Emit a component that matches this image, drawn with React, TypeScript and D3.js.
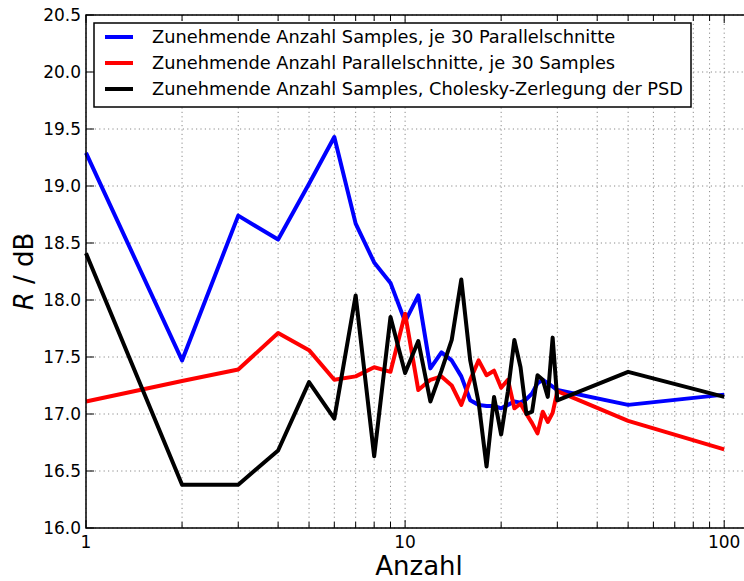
import React, { useEffect, useRef } from "react";
import * as d3 from "d3";

// Anzahl (x) and R / dB for the three runs
const anzahl = [1, 2, 3, 4, 5, 6, 7, 8, 9, 10, 11, 12, 13, 14, 15, 16, 17, 18, 19, 20, 21, 22, 23, 24, 25, 26, 27, 28, 29, 30, 50, 100];
const samplesJe30Schnitte = [19.29, 17.47, 18.74, 18.53, 19.02, 19.43, 18.67, 18.33, 18.15, 17.81, 18.04, 17.40, 17.54, 17.47, 17.33, 17.12, 17.08, 17.07, 17.07, 17.05, 17.08, 17.11, 17.10, 17.13, 17.18, 17.27, 17.30, 17.27, 17.24, 17.21, 17.08, 17.17];
const schnitteJe30Samples = [17.11, 17.29, 17.39, 17.71, 17.56, 17.30, 17.33, 17.41, 17.37, 17.88, 17.21, 17.30, 17.33, 17.25, 17.08, 17.30, 17.47, 17.34, 17.38, 17.23, 17.30, 17.05, 17.09, 17.00, 16.92, 16.83, 17.02, 16.93, 17.01, 17.20, 16.94, 16.69];
const samplesCholesky = [18.41, 16.38, 16.38, 16.68, 17.28, 16.96, 18.04, 16.63, 17.85, 17.36, 17.64, 17.11, 17.38, 17.65, 18.18, 17.47, 17.10, 16.54, 17.15, 16.82, 17.20, 17.65, 17.41, 17.00, 17.02, 17.34, 17.30, 17.15, 17.67, 17.12, 17.37, 17.15];

const seriesNames = [
  "Zunehmende Anzahl Samples, je 30 Parallelschnitte",
  "Zunehmende Anzahl Parallelschnitte, je 30 Samples",
  "Zunehmende Anzahl Samples, Cholesky-Zerlegung der PSD",
];
const seriesColors = ["#0000ff", "#ff0000", "#000000"];
const yTicks = [16.0, 16.5, 17.0, 17.5, 18.0, 18.5, 19.0, 19.5, 20.0, 20.5];
const xMajor = [1, 10, 100];
const xMinor = [2, 3, 4, 5, 6, 7, 8, 9, 20, 30, 40, 50, 60, 70, 80, 90];

const W = 744, H = 581;
const left = 86, top = 15, bottom = 528, right = 754;
const font = '"DejaVu Sans", sans-serif';

export default function App() {
  const ref = useRef<SVGSVGElement>(null);

  useEffect(() => {
    const svg = d3.select(ref.current);
    svg.selectAll("*").remove();

    const x = d3.scaleLog().domain([1, 124]).range([left, right]);
    const y = d3.scaleLinear().domain([16, 20.5]).range([bottom, top]);

    svg.append("rect").attr("width", W).attr("height", H).attr("fill", "white");

    // grid
    const grid = svg.append("g");
    yTicks.forEach((t) => {
      grid.append("line")
        .attr("x1", left).attr("x2", right)
        .attr("y1", y(t)).attr("y2", y(t))
        .attr("stroke", "#8a8a8a").attr("stroke-width", 1)
        .attr("stroke-dasharray", "1.2,3.2");
    });
    xMajor.concat(xMinor).forEach((t) => {
      grid.append("line")
        .attr("x1", x(t)).attr("x2", x(t))
        .attr("y1", top).attr("y2", bottom)
        .attr("stroke", "#8a8a8a").attr("stroke-width", 1)
        .attr("stroke-dasharray", "1.2,3.2");
    });

    // data lines
    const line = d3.line<number>()
      .x((_, i) => x(anzahl[i]))
      .y((d) => y(d));
    [samplesJe30Schnitte, schnitteJe30Samples, samplesCholesky].forEach((vals, k) => {
      svg.append("path")
        .attr("d", line(vals))
        .attr("fill", "none")
        .attr("stroke", seriesColors[k])
        .attr("stroke-width", 4)
        .attr("stroke-linejoin", "round");
    });

    // frame + inward ticks
    const frame = svg.append("g").attr("stroke", "black").attr("stroke-width", 1.5);
    frame.append("rect")
      .attr("x", left).attr("y", top)
      .attr("width", right - left).attr("height", bottom - top)
      .attr("fill", "none");
    xMajor.concat(xMinor).forEach((t) => {
      const len = xMajor.includes(t) ? 8 : 6;
      frame.append("line").attr("x1", x(t)).attr("x2", x(t)).attr("y1", bottom).attr("y2", bottom - len).attr("stroke-width", 1);
      frame.append("line").attr("x1", x(t)).attr("x2", x(t)).attr("y1", top).attr("y2", top + len).attr("stroke-width", 1);
    });
    yTicks.forEach((t) => {
      frame.append("line").attr("x1", left).attr("x2", left + 8).attr("y1", y(t)).attr("y2", y(t)).attr("stroke-width", 1);
    });

    // tick labels
    const labels = svg.append("g").attr("font-family", font).attr("font-size", 17).attr("fill", "black");
    yTicks.forEach((t) => {
      labels.append("text")
        .attr("x", left - 5).attr("y", y(t) + 6)
        .attr("text-anchor", "end")
        .text(d3.format(".1f")(t));
    });
    xMajor.forEach((t) => {
      labels.append("text")
        .attr("x", x(t)).attr("y", bottom + 20)
        .attr("text-anchor", "middle")
        .text(String(t));
    });

    // axis titles
    svg.append("text")
      .attr("x", 419).attr("y", 575)
      .attr("text-anchor", "middle")
      .attr("font-family", font).attr("font-size", 26)
      .text("Anzahl");
    const yl = svg.append("text")
      .attr("transform", `translate(33,${(top + bottom) / 2}) rotate(-90)`)
      .attr("text-anchor", "middle")
      .attr("font-family", font).attr("font-size", 26);
    yl.append("tspan").attr("font-style", "italic").text("R");
    yl.append("tspan").text(" / dB");

    // legend
    const lg = svg.append("g");
    lg.append("rect")
      .attr("x", 94).attr("y", 23).attr("width", 597).attr("height", 84)
      .attr("fill", "white").attr("stroke", "black").attr("stroke-width", 1.5);
    seriesNames.forEach((name, i) => {
      const ry = 37 + i * 26;
      lg.append("line")
        .attr("x1", 105).attr("x2", 133).attr("y1", ry).attr("y2", ry)
        .attr("stroke", seriesColors[i]).attr("stroke-width", 4);
      lg.append("text")
        .attr("x", 152).attr("y", ry + 6)
        .attr("font-family", font).attr("font-size", 17.8)
        .text(name);
    });
  }, []);

  return (
    <svg ref={ref} width={W} height={H} style={{ position: "absolute", left: 0, top: 0 }}></svg>
  );
}
